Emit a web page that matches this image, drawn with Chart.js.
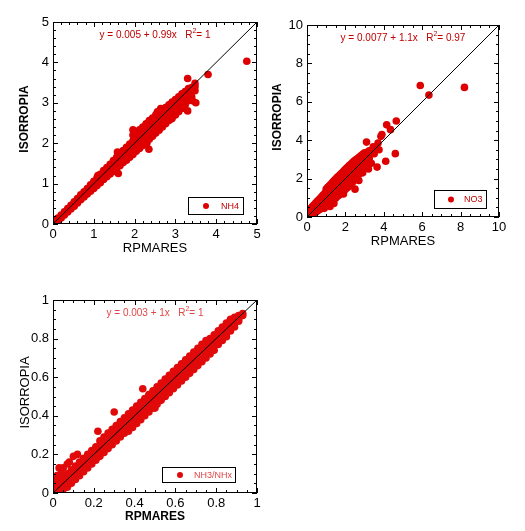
<!DOCTYPE html>
<html><head><meta charset="utf-8">
<script src="https://cdn.jsdelivr.net/npm/chart.js@4.4.0/dist/chart.umd.min.js"></script>
<style>
html,body{margin:0;padding:0;background:#fff;width:525px;height:531px;overflow:hidden;}
canvas{position:absolute;}
</style></head><body>
<canvas id="c1" width="270" height="262" style="left:0;top:0"></canvas>
<canvas id="c2" width="263" height="262" style="left:262px;top:0"></canvas>
<canvas id="c3" width="270" height="253" style="left:0;top:278px"></canvas>
<script>
// ---------- DATA ----------
const xTitle = 'RPMARES';
const yTitle = 'ISORROPIA';

const nh4Label = 'NH4';
const nh4Eq = ['y = 0.005 + 0.99x   R', '2', '= 1'];
const nh4Line = [[0,0],[5,5]];
const nh4Points = [
[0.05,0.03],[0.05,0.08],[0.12,0.08],[0.12,0.15],[0.2,0.15],[0.2,0.22],[0.28,0.22],[0.28,0.3],[0.36,0.3],[0.36,0.38],
[0.44,0.37],[0.44,0.46],[0.52,0.44],[0.52,0.55],[0.6,0.52],[0.6,0.63],[0.68,0.6],[0.68,0.72],[0.76,0.67],[0.76,0.8],
[0.84,0.74],[0.84,0.88],[0.92,0.81],[0.92,0.9],[0.92,0.97],[1.0,0.88],[1.0,0.97],[1.0,1.06],[1.08,0.95],[1.08,1.05],
[1.08,1.15],[1.16,1.02],[1.16,1.12],[1.16,1.23],[1.24,1.1],[1.24,1.2],[1.24,1.32],[1.32,1.17],[1.32,1.28],[1.32,1.4],
[1.4,1.24],[1.4,1.36],[1.4,1.48],[1.48,1.31],[1.48,1.43],[1.48,1.57],[1.56,1.38],[1.56,1.5],[1.56,1.65],[1.64,1.44],
[1.64,1.58],[1.64,1.74],[1.72,1.52],[1.72,1.66],[1.72,1.82],[1.8,1.58],[1.8,1.73],[1.8,1.9],[1.88,1.65],[1.88,1.81],
[1.88,1.98],[1.96,1.72],[1.96,1.88],[1.96,2.06],[1.96,2.2],[2.04,1.8],[2.04,1.96],[2.04,2.14],[2.04,2.28],[2.12,1.87],
[2.12,2.04],[2.12,2.22],[2.12,2.33],[2.2,1.94],[2.2,2.12],[2.2,2.28],[2.2,2.4],[2.28,2.02],[2.28,2.2],[2.28,2.36],
[2.28,2.48],[2.36,2.1],[2.36,2.28],[2.36,2.44],[2.36,2.56],[2.44,2.17],[2.44,2.35],[2.44,2.52],[2.44,2.62],[2.52,2.25],
[2.52,2.43],[2.52,2.6],[2.52,2.7],[2.6,2.32],[2.6,2.5],[2.6,2.66],[2.6,2.78],[2.68,2.4],[2.68,2.58],[2.68,2.74],
[2.68,2.82],[2.76,2.48],[2.76,2.66],[2.76,2.8],[2.76,2.88],[2.84,2.56],[2.84,2.73],[2.84,2.88],[2.84,2.95],[2.92,2.62],
[2.92,2.8],[2.92,2.95],[2.92,3.02],[3.0,2.7],[3.0,2.88],[3.0,3.02],[3.0,3.08],[3.08,2.78],[3.08,2.95],[3.08,3.08],
[3.08,3.15],[3.16,2.86],[3.16,3.02],[3.16,3.14],[3.16,3.22],[3.24,2.95],[3.24,3.1],[3.24,3.2],[3.24,3.28],[3.32,3.05],
[3.32,3.18],[3.32,3.28],[3.32,3.35],[3.4,3.15],[3.4,3.28],[3.4,3.38],[3.48,3.3],[3.48,3.4],[3.48,3.48],
[1.6,1.25],[2.35,1.85],[3.3,3.6],[3.3,2.8],[3.5,3.0],[3.8,3.7],[4.75,4.03],
[1.58,1.78],[1.96,2.33],[2.56,2.78],[2.64,2.86],[1.55,1.3],[2.3,2.0],[2.9,2.6],[3.2,2.88],[3.42,3.05],[1.1,1.2]
];

const no3Label = 'NO3';
const no3Eq = ['y = 0.0077 + 1.1x   R', '2', '= 0.97'];
const no3Line = [[0,0],[10,10]];
const no3Points = [
[0.04,0.02],[0.04,0.12],[0.04,0.22],[0.12,0.05],[0.12,0.15],[0.12,0.28],[0.2,0.08],[0.2,0.22],[0.2,0.36],[0.2,0.45],
[0.28,0.12],[0.28,0.28],[0.28,0.42],[0.28,0.55],[0.36,0.18],[0.36,0.34],[0.36,0.5],[0.36,0.62],[0.44,0.25],[0.44,0.4],
[0.44,0.56],[0.44,0.72],[0.52,0.3],[0.52,0.46],[0.52,0.62],[0.52,0.8],[0.6,0.36],[0.6,0.52],[0.6,0.7],[0.6,0.88],
[0.68,0.4],[0.68,0.58],[0.68,0.78],[0.68,0.96],[0.76,0.46],[0.76,0.64],[0.76,0.85],[0.76,1.05],[0.84,0.5],[0.84,0.7],
[0.84,0.92],[0.84,1.14],[0.92,0.56],[0.92,0.78],[0.92,1.0],[0.92,1.22],[1.0,0.62],[1.0,0.84],[1.0,1.08],[1.0,1.3],
[1.0,1.45],[1.08,0.68],[1.08,0.9],[1.08,1.15],[1.08,1.38],[1.08,1.55],[1.16,0.72],[1.16,0.96],[1.16,1.22],[1.16,1.46],
[1.16,1.62],[1.24,0.78],[1.24,1.02],[1.24,1.3],[1.24,1.55],[1.24,1.7],[1.32,0.82],[1.32,1.08],[1.32,1.36],[1.32,1.62],
[1.32,1.8],[1.4,0.9],[1.4,1.15],[1.4,1.42],[1.4,1.7],[1.4,1.88],[1.48,0.98],[1.48,1.22],[1.48,1.5],[1.48,1.78],
[1.48,1.96],[1.56,1.05],[1.56,1.3],[1.56,1.58],[1.56,1.86],[1.56,2.05],[1.64,1.12],[1.64,1.38],[1.64,1.66],[1.64,1.94],
[1.64,2.12],[1.72,1.18],[1.72,1.45],[1.72,1.74],[1.72,2.02],[1.72,2.2],[1.8,1.25],[1.8,1.52],[1.8,1.82],[1.8,2.1],
[1.8,2.28],[1.88,1.32],[1.88,1.6],[1.88,1.9],[1.88,2.18],[1.88,2.36],[1.96,1.4],[1.96,1.68],[1.96,1.98],[1.96,2.26],
[1.96,2.44],[2.04,1.48],[2.04,1.76],[2.04,2.05],[2.04,2.34],[2.04,2.52],[2.12,1.55],[2.12,1.84],[2.12,2.12],[2.12,2.42],
[2.12,2.6],[2.2,1.62],[2.2,1.92],[2.2,2.2],[2.2,2.5],[2.2,2.68],[2.28,1.7],[2.28,2.0],[2.28,2.28],[2.28,2.58],
[2.28,2.75],[2.36,1.8],[2.36,2.08],[2.36,2.36],[2.36,2.64],[2.36,2.82],[2.44,1.9],[2.44,2.16],[2.44,2.44],[2.44,2.7],
[2.44,2.9],[2.52,2.0],[2.52,2.25],[2.52,2.52],[2.52,2.78],[2.52,2.96],[2.6,2.1],[2.6,2.34],[2.6,2.6],[2.6,2.85],
[2.6,3.02],[2.68,2.2],[2.68,2.42],[2.68,2.68],[2.68,2.92],[2.68,3.08],[2.76,2.3],[2.76,2.52],[2.76,2.76],[2.76,3.0],
[2.76,3.15],[2.84,2.42],[2.84,2.62],[2.84,2.84],[2.84,3.06],[2.84,3.22],[2.92,2.55],[2.92,2.72],[2.92,2.92],[2.92,3.12],
[2.92,3.28],[3.0,2.68],[3.0,2.85],[3.0,3.0],[3.0,3.2],[3.0,3.35],[3.08,2.8],[3.08,2.95],[3.08,3.1],[3.08,3.28],
[3.16,2.92],[3.16,3.05],[3.16,3.2],[3.16,3.38],[3.24,3.02],[3.24,3.15],[3.24,3.3],[3.24,3.45],
[2.5,1.45],[3.1,3.9],[3.35,2.8],[3.3,3.45],[3.45,3.65],[3.5,3.3],[3.65,2.6],[3.7,3.85],[3.75,3.5],[3.85,4.2],
[3.9,4.3],[4.1,2.9],[4.15,4.8],[4.35,4.55],[4.6,3.3],[4.65,5.0],[5.9,6.85],[6.35,6.35],[8.2,6.75],[1.4,0.7],
[1.2,0.55],[0.9,0.45],[2.9,2.3],[3.2,2.5],[2.7,1.9],[1.9,1.2]
];

const nh3Label = 'NH3/NHx';
const nh3Eq = ['y = 0.003 + 1x   R', '2', '= 1'];
const nh3Line = [[0,0],[1,1]];
const nh3Points = [
[0.01,0.0],[0.01,0.02],[0.01,0.04],[0.01,0.06],[0.03,0.0],[0.03,0.03],[0.03,0.05],[0.03,0.07],[0.05,0.02],[0.05,0.04],
[0.05,0.06],[0.05,0.08],[0.07,0.03],[0.07,0.06],[0.07,0.08],[0.07,0.1],[0.09,0.05],[0.09,0.08],[0.09,0.1],[0.09,0.12],
[0.11,0.07],[0.11,0.1],[0.11,0.12],[0.11,0.14],[0.13,0.09],[0.13,0.12],[0.13,0.14],[0.13,0.16],[0.15,0.11],[0.15,0.14],
[0.15,0.16],[0.15,0.18],[0.17,0.13],[0.17,0.15],[0.17,0.18],[0.17,0.2],[0.19,0.15],[0.19,0.17],[0.19,0.2],[0.19,0.22],
[0.21,0.17],[0.21,0.19],[0.21,0.22],[0.21,0.24],[0.23,0.19],[0.23,0.21],[0.23,0.24],[0.23,0.27],[0.25,0.21],[0.25,0.23],
[0.25,0.26],[0.25,0.29],[0.27,0.23],[0.27,0.25],[0.27,0.28],[0.27,0.31],[0.29,0.25],[0.29,0.27],[0.29,0.3],[0.29,0.33],
[0.31,0.27],[0.31,0.29],[0.31,0.32],[0.31,0.35],[0.33,0.29],[0.33,0.31],[0.33,0.34],[0.33,0.37],[0.35,0.31],[0.35,0.33],
[0.35,0.36],[0.35,0.39],[0.37,0.32],[0.37,0.35],[0.37,0.38],[0.37,0.41],[0.39,0.34],[0.39,0.37],[0.39,0.4],[0.39,0.43],
[0.41,0.36],[0.41,0.39],[0.41,0.42],[0.41,0.45],[0.43,0.38],[0.43,0.41],[0.43,0.44],[0.43,0.47],[0.45,0.4],[0.45,0.43],
[0.45,0.46],[0.45,0.49],[0.47,0.42],[0.47,0.45],[0.47,0.48],[0.47,0.51],[0.49,0.44],[0.49,0.47],[0.49,0.5],[0.49,0.53],
[0.51,0.46],[0.51,0.49],[0.51,0.52],[0.51,0.55],[0.53,0.48],[0.53,0.51],[0.53,0.54],[0.53,0.57],[0.55,0.5],[0.55,0.53],
[0.55,0.56],[0.55,0.59],[0.57,0.52],[0.57,0.55],[0.57,0.58],[0.57,0.61],[0.59,0.54],[0.59,0.57],[0.59,0.6],[0.59,0.63],
[0.61,0.56],[0.61,0.59],[0.61,0.62],[0.61,0.65],[0.63,0.58],[0.63,0.61],[0.63,0.64],[0.63,0.67],[0.65,0.6],[0.65,0.63],
[0.65,0.66],[0.65,0.69],[0.67,0.62],[0.67,0.65],[0.67,0.68],[0.67,0.71],[0.69,0.64],[0.69,0.67],[0.69,0.7],[0.69,0.73],
[0.71,0.66],[0.71,0.69],[0.71,0.72],[0.71,0.75],[0.73,0.68],[0.73,0.71],[0.73,0.74],[0.73,0.77],[0.75,0.7],[0.75,0.73],
[0.75,0.76],[0.75,0.79],[0.77,0.72],[0.77,0.75],[0.77,0.78],[0.77,0.8],[0.79,0.74],[0.79,0.77],[0.79,0.8],[0.79,0.82],
[0.81,0.77],[0.81,0.79],[0.81,0.82],[0.81,0.84],[0.83,0.79],[0.83,0.81],[0.83,0.84],[0.83,0.86],[0.85,0.81],[0.85,0.83],
[0.85,0.86],[0.85,0.88],[0.87,0.84],[0.87,0.86],[0.87,0.88],[0.87,0.9],[0.89,0.86],[0.89,0.88],[0.89,0.9],[0.89,0.91],
[0.91,0.89],[0.91,0.9],[0.91,0.92],[0.93,0.92],[0.93,0.93],
[0.03,0.13],[0.05,0.13],[0.07,0.15],[0.08,0.16],[0.1,0.19],[0.12,0.2],[0.22,0.32],[0.3,0.42],[0.44,0.54],[0.5,0.44],
[0.62,0.58],[0.02,0.09],[0.04,0.1]
];

// ---------- DRAWING ----------
const FONT = '"Liberation Sans", Arial, sans-serif';
const toXY = arr => arr.map(p => ({x: p[0], y: p[1]}));
const fmt = v => String(Number(v.toFixed(3)));

function drawRich(ctx, parts, cx, cy, size, color) {
  let total = 0;
  const ws = parts.map((t, i) => {
    ctx.font = (i === 1 ? Math.round(size * 0.7) : size) + 'px ' + FONT;
    const w = ctx.measureText(t).width; total += w; return w;
  });
  let x = cx - total / 2;
  ctx.fillStyle = color; ctx.textBaseline = 'middle'; ctx.textAlign = 'left';
  parts.forEach((t, i) => {
    ctx.font = (i === 1 ? Math.round(size * 0.7) : size) + 'px ' + FONT;
    ctx.fillText(t, x, i === 1 ? cy - size * 0.35 : cy);
    x += ws[i];
  });
}

function makeChart(id, c) {
  const decor = {
    id: 'decor' + id,
    afterDraw(chart) {
      const ctx = chart.ctx;
      const {left, right, top, bottom} = chart.chartArea;
      const xs = chart.scales.x, ys = chart.scales.y;
      ctx.save();
      ctx.strokeStyle = '#000'; ctx.lineWidth = 1;
      ctx.strokeRect(left + 0.5, top + 0.5, right - left - 1, bottom - top - 1);
      ctx.beginPath();
      const n = Math.round(c.max / c.minor);
      for (let i = 0; i <= n; i++) {
        const v = i * c.minor;
        const r = v / c.step;
        const L = Math.abs(r - Math.round(r)) < 1e-6 ? 5 : 3;
        const px = Math.round(xs.getPixelForValue(v)) + 0.5;
        ctx.moveTo(px, bottom); ctx.lineTo(px, bottom - L);
        ctx.moveTo(px, top); ctx.lineTo(px, top + L);
        const py = Math.round(ys.getPixelForValue(v)) + 0.5;
        ctx.moveTo(left, py); ctx.lineTo(left + L, py);
        ctx.moveTo(right, py); ctx.lineTo(right - L, py);
      }
      ctx.stroke();
      // axis titles
      ctx.fillStyle = '#000';
      ctx.textAlign = 'center'; ctx.textBaseline = 'middle';
      ctx.font = c.xTitleFont;
      ctx.fillText(xTitle, (left + right) / 2, bottom + 24);
      ctx.save();
      ctx.translate(left - c.yTitleOff, (top + bottom) / 2 - 4);
      ctx.rotate(-Math.PI / 2);
      ctx.font = c.yTitleFont;
      ctx.fillText(yTitle, 0, 0);
      ctx.restore();
      // equation
      drawRich(ctx, c.eq, (left + right) / 2, top + 13, 10, c.textColor);
      // legend
      const bx = right - c.lg.ri - c.lg.w, by = bottom - c.lg.bi - c.lg.h;
      ctx.strokeStyle = '#000';
      ctx.strokeRect(bx + 0.5, by + 0.5, c.lg.w, c.lg.h);
      ctx.fillStyle = c.pointColor;
      ctx.beginPath(); ctx.arc(bx + c.lg.dot, by + c.lg.h / 2 + 0.5, 3, 0, Math.PI * 2); ctx.fill();
      ctx.fillStyle = c.textColor; ctx.textAlign = 'left';
      ctx.font = c.lg.fs + 'px ' + FONT;
      ctx.fillText(c.label, bx + c.lg.tx, by + c.lg.h / 2 + 1);
      ctx.restore();
    }
  };
  const tickFont = {family: FONT, size: c.tickSize, weight: c.tickWeight};
  return new Chart(document.getElementById(id), {
    type: 'scatter',
    data: {
      datasets: [
        {data: toXY(c.line), showLine: true, borderColor: '#000', borderWidth: 1, pointRadius: 0, order: 0},
        {data: toXY(c.points), backgroundColor: c.pointColor, borderWidth: 0, pointRadius: 3.8, clip: 0, order: 1}
      ]
    },
    options: {
      responsive: false, animation: false, devicePixelRatio: 1, events: [],
      layout: {padding: {top: c.pad.top, right: c.pad.right, left: 0, bottom: 0}},
      plugins: {legend: {display: false}, tooltip: {enabled: false}},
      scales: {
        x: {
          type: 'linear', min: 0, max: c.max,
          afterFit: s => { s.height = c.xH; },
          ticks: {stepSize: c.step, color: '#000', font: tickFont, padding: 3, maxRotation: 0, autoSkip: false, callback: fmt},
          grid: {display: false, drawTicks: false}, border: {display: false}
        },
        y: {
          type: 'linear', min: 0, max: c.max,
          afterFit: s => { s.width = c.yW; },
          ticks: {stepSize: c.step, color: '#000', font: tickFont, padding: 4, autoSkip: false, callback: fmt},
          grid: {display: false, drawTicks: false}, border: {display: false}
        }
      }
    },
    plugins: [decor]
  });
}

makeChart('c1', {
  points: nh4Points, line: nh4Line, eq: nh4Eq, label: nh4Label,
  max: 5, step: 1, minor: 0.2, pad: {top: 22, right: 13}, xH: 38, yW: 53,
  tickSize: 13, tickWeight: 'normal',
  xTitleFont: '13px ' + FONT, yTitleFont: 'bold 12px ' + FONT, yTitleOff: 28,
  pointColor: 'rgb(222,0,0)', textColor: 'rgb(190,0,0)',
  lg: {ri: 14, bi: 10, w: 55, h: 17, dot: 18, tx: 33, fs: 9}
});
makeChart('c2', {
  points: no3Points, line: no3Line, eq: no3Eq, label: no3Label,
  max: 10, step: 2, minor: 0.5, pad: {top: 25, right: 26}, xH: 45, yW: 45,
  tickSize: 13, tickWeight: 'normal',
  xTitleFont: '13px ' + FONT, yTitleFont: 'bold 12px ' + FONT, yTitleOff: 29,
  pointColor: 'rgb(222,0,0)', textColor: 'rgb(190,0,0)',
  lg: {ri: 13, bi: 9, w: 52, h: 18, dot: 17, tx: 30, fs: 9}
});
makeChart('c3', {
  points: nh3Points, line: nh3Line, eq: nh3Eq, label: nh3Label,
  max: 1, step: 0.2, minor: 0.05, pad: {top: 22, right: 13}, xH: 38, yW: 53,
  tickSize: 13, tickWeight: 'normal',
  xTitleFont: 'bold 12px ' + FONT, yTitleFont: '13px ' + FONT, yTitleOff: 28,
  pointColor: 'rgb(225,10,10)', textColor: 'rgb(225,70,70)',
  lg: {ri: 22, bi: 11, w: 73, h: 15, dot: 18, tx: 32, fs: 9}
});
</script>
</body></html>
